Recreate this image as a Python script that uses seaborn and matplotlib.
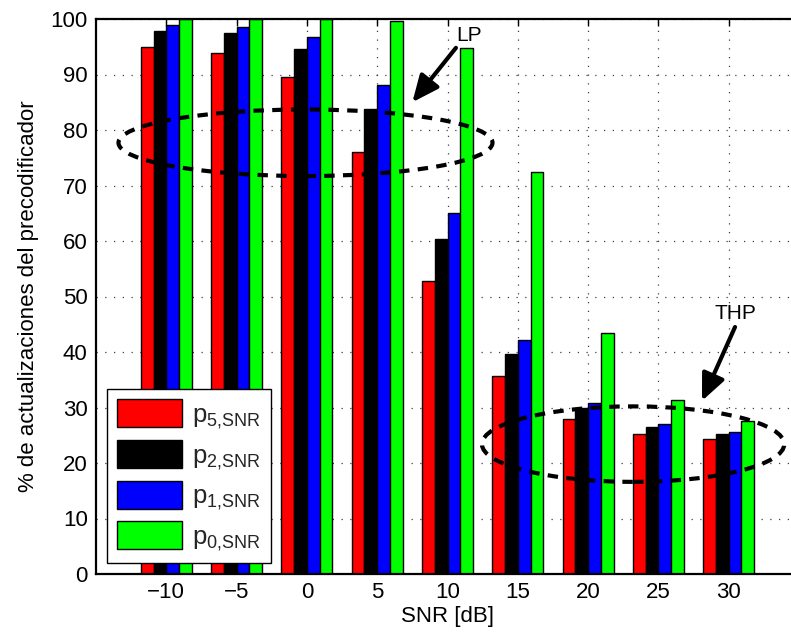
import matplotlib
matplotlib.use("Agg")
import matplotlib.pyplot as plt
import seaborn as sns
import pandas as pd
from matplotlib.patches import Ellipse, Patch

snr = [-10, -5, 0, 5, 10, 15, 20, 25, 30]
p5 = [94.9, 93.9, 89.5, 76.0, 52.8, 35.6, 27.9, 25.2, 24.4]
p2 = [97.9, 97.4, 94.6, 83.8, 60.3, 39.6, 29.9, 26.5, 25.2]
p1 = [98.9, 98.6, 96.7, 88.1, 65.0, 42.2, 30.9, 27.0, 25.6]
p0 = [100.0, 100.0, 100.0, 99.6, 94.7, 72.4, 43.5, 31.3, 27.5]
series_names = ["p5", "p2", "p1", "p0"]
legend_labels = [r"p$_{\mathregular{5{,}SNR}}$", r"p$_{\mathregular{2{,}SNR}}$",
                 r"p$_{\mathregular{1{,}SNR}}$", r"p$_{\mathregular{0{,}SNR}}$"]
colors = ["#ff0000", "#000000", "#0000ff", "#00ff00"]
xticks = [-10, -5, 0, 5, 10, 15, 20, 25, 30]
yticks = [0, 10, 20, 30, 40, 50, 60, 70, 80, 90, 100]

rows = []
for name, vals in zip(series_names, [p5, p2, p1, p0]):
    for s, v in zip(snr, vals):
        rows.append({"snr": s, "val": v, "serie": name})
df = pd.DataFrame(rows)

sns.set_theme(style="white")
plt.rcParams["font.family"] = ["Liberation Sans", "DejaVu Sans"]
plt.rcParams["mathtext.fontset"] = "custom"
plt.rcParams["mathtext.rm"] = "Liberation Sans"

W, H = 791, 641
fig = plt.figure(figsize=(W / 100, H / 100), dpi=100)
ax = fig.add_axes([96 / W, (H - 574) / H, (799 - 96) / W, (574 - 19) / H])

sns.barplot(data=df, x="snr", y="val", hue="serie", native_scale=True,
            width=0.725, gap=0, palette=colors, saturation=1,
            edgecolor="black", linewidth=1.0, ax=ax, legend=False,
            errorbar=None)

ax.set_xlim(-15, 35)
ax.set_ylim(0, 100)
ax.set_xticks(xticks)
ax.set_xticklabels(["\u221210", "\u22125", "0", "5", "10", "15", "20", "25", "30"])
ax.set_yticks(yticks)
ax.tick_params(axis="both", direction="in", length=5, width=1, labelsize=16,
               top=True, right=True, color="black", labelcolor="black", pad=6)
ax.grid(True, linestyle=(0, (1, 6)), color="0.25", linewidth=0.9)
ax.set_axisbelow(True)
for sp in ax.spines.values():
    sp.set_color("black")
    sp.set_linewidth(1.6)

ax.set_xlabel("SNR [dB]", fontsize=16, color="black", labelpad=2)
ax.set_ylabel("% de actualizaciones del precodificador", fontsize=16,
              color="black", labelpad=8)

# ellipses
e1 = Ellipse((-0.1, 77.7), 26.6, 12.0, fill=False, edgecolor="black",
             linewidth=3, linestyle=(0, (2.5, 2)), zorder=5)
e2 = Ellipse((23.2, 23.4), 21.5, 13.6, fill=False, edgecolor="black",
             linewidth=3, linestyle=(0, (2.5, 2)), zorder=5)
ax.add_patch(e1)
ax.add_patch(e2)

arrowprops = dict(arrowstyle="-|>,head_length=0.9,head_width=0.4",
                  color="black", lw=3, shrinkA=0, shrinkB=0,
                  mutation_scale=18)
ax.annotate("", xy=(7.5, 85.0), xytext=(10.6, 94.8), arrowprops=arrowprops,
            zorder=6)
ax.annotate("", xy=(28.1, 31.2), xytext=(30.45, 44.5), arrowprops=arrowprops,
            zorder=6)
ax.text(11.5, 97.0, "LP", fontsize=15, ha="center", va="center", color="black",
        zorder=6)
ax.text(30.5, 47.0, "THP", fontsize=15, ha="center", va="center", color="black",
        zorder=6)

handles = [Patch(facecolor=c, edgecolor="black", linewidth=1) for c in colors]
leg = ax.legend(handles, legend_labels, loc="lower left",
                bbox_to_anchor=((107 - 96) / 703, (574 - 563) / 555),
                borderaxespad=0, fontsize=18.5, handlelength=2.5,
                handleheight=1.3, labelspacing=0.35, handletextpad=0.4,
                borderpad=0.4, fancybox=False, framealpha=1,
                edgecolor="black")
leg.get_frame().set_linewidth(1.0)

fig.savefig("out.png", dpi=100)
